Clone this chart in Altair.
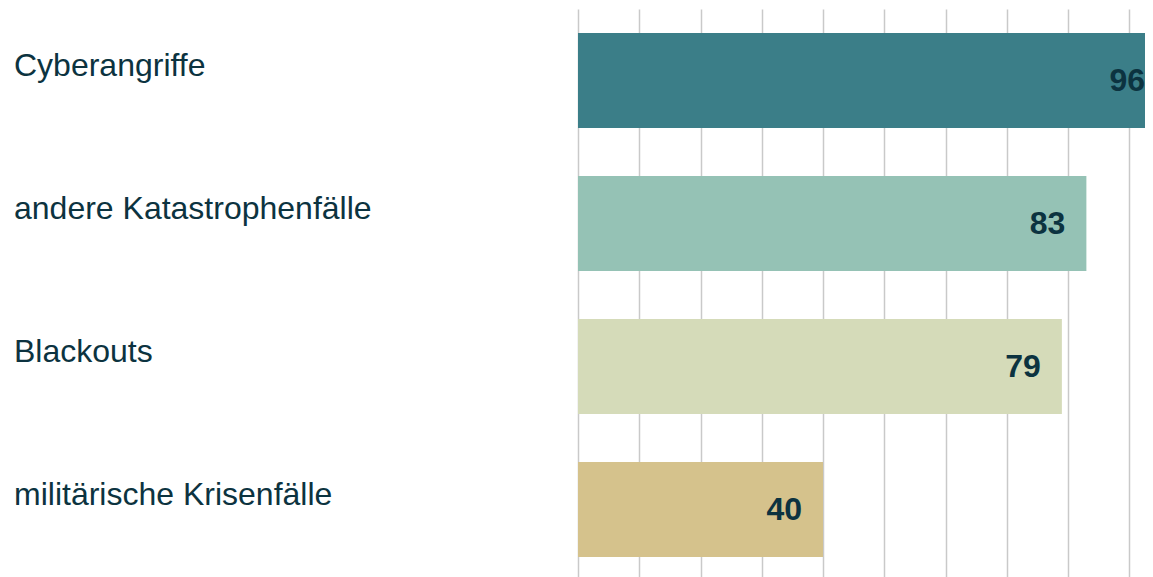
import altair as alt
import pandas as pd

categories = ["Cyberangriffe", "andere Katastrophenfälle", "Blackouts", "militärische Krisenfälle"]
values = [96, 83, 79, 40]
colors = ["#3b7e88", "#95c2b5", "#d5dbb9", "#d5c28c"]
grid_values = [0, 10, 20, 30, 40, 50, 60, 70, 80, 90]

df = pd.DataFrame({"cat": categories, "val": values})

FONT = "Liberation Sans, Arial, Helvetica, sans-serif"
TXT = "#0c3340"

y_enc = alt.Y("cat:N", sort=categories, axis=None,
              scale=alt.Scale(paddingInner=0.3357, paddingOuter=0.1538, align=0.545))
# 0 at plot left, 6.125 px per unit
x_scale = alt.Scale(domain=[0, 92.57], nice=False, zero=True)

base = alt.Chart(df)

bars = base.mark_bar(clip=True).encode(
    x=alt.X("val:Q", scale=x_scale,
            axis=alt.Axis(values=grid_values, grid=True, gridColor="#c9c9c9", gridWidth=1.5,
                          labels=False, ticks=False, domain=False, title=None)),
    y=y_enc,
    color=alt.Color("cat:N", scale=alt.Scale(domain=categories, range=colors), legend=None),
)

vals = base.mark_text(align="right", baseline="alphabetic", dx=-21, dy=11, fontSize=32,
                      fontWeight="bold", font=FONT, color=TXT).encode(
    x=alt.X("val:Q", scale=x_scale),
    y=y_enc,
    text=alt.Text("val:Q"),
)

names = base.mark_text(align="left", baseline="alphabetic", dy=-4.5, fontSize=32,
                       font=FONT, color=TXT).encode(
    x=alt.value(-564),
    y=y_enc,
    text="cat:N",
)

chart = alt.layer(bars, vals, names).properties(
    width=567, height=568,
    autosize=alt.AutoSizeParams(type="none"),
    padding={"left": 570, "top": 1, "right": 0, "bottom": 0},
).configure_view(stroke=None)

chart.save("out.html", embed_options={"renderer": "svg", "actions": False})
